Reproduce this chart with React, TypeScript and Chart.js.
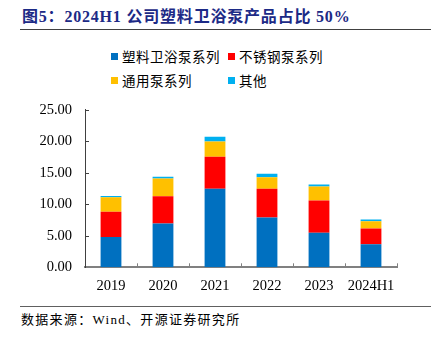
import React, { useEffect, useRef } from "react";
import { Chart, registerables } from "chart.js";

Chart.register(...registerables);

const categories = ["2019", "2020", "2021", "2022", "2023", "2024H1"];
const plasticBath = [4.82, 6.93, 12.45, 7.89, 5.5, 3.66];
const stainless = [3.98, 4.35, 5.09, 4.56, 5.09, 2.48];
const general = [2.33, 2.81, 2.43, 1.85, 2.22, 1.17];
const others = [0.2, 0.27, 0.73, 0.53, 0.32, 0.26];
const yTicks = [0, 5, 10, 15, 20, 25];

const seriesNames = ["塑料卫浴泵系列", "不锈钢泵系列", "通用泵系列", "其他"];
const seriesColors = ["#0070C0", "#FF0000", "#FFC000", "#00B0F0"];

const FONT = '"Liberation Serif", "Noto Sans CJK SC", serif';

const inwardTicks = {
  id: "inwardTicks",
  afterDatasetsDraw(chart: any) {
    const ctx = chart.ctx;
    const y = chart.scales.y;
    const area = chart.chartArea;
    ctx.save();
    ctx.strokeStyle = "#404040";
    ctx.lineWidth = 1;
    for (const v of yTicks) {
      if (v === 0) continue;
      const py = Math.round(y.getPixelForValue(v)) + 0.5;
      ctx.beginPath();
      ctx.moveTo(area.left, py);
      ctx.lineTo(area.left + 4, py);
      ctx.stroke();
    }
    ctx.strokeStyle = "#808080";
    const n = categories.length;
    for (let i = 1; i <= n; i++) {
      const px = Math.round(area.left + ((area.right - area.left) * i) / n) + 0.5;
      ctx.beginPath();
      ctx.moveTo(px, area.bottom);
      ctx.lineTo(px, area.bottom - 4);
      ctx.stroke();
    }
    ctx.restore();
  },
};

export default function App() {
  const ref = useRef<HTMLCanvasElement>(null);
  useEffect(() => {
    if (!ref.current) return;
    const data = [plasticBath, stainless, general, others];
    const chart = new Chart(ref.current, {
      type: "bar",
      data: {
        labels: categories,
        datasets: data.map((d, i) => ({
          label: seriesNames[i],
          data: d,
          backgroundColor: seriesColors[i],
          borderWidth: 0,
          barPercentage: 0.8,
          categoryPercentage: 0.5,
        })),
      },
      options: {
        animation: false,
        responsive: false,
        maintainAspectRatio: false,
        layout: { padding: { top: 15, right: 34, left: 0, bottom: 0 } },
        plugins: { legend: { display: false }, tooltip: { enabled: false } },
        scales: {
          x: {
            stacked: true,
            grid: { display: false, drawTicks: false },
            border: { display: true, color: "#808080", width: 2 },
            ticks: { color: "#000", font: { family: FONT, size: 14.5 }, padding: 10, maxRotation: 0 },
            afterFit: (s: any) => { s.height = 37.7; },
          },
          y: {
            stacked: true,
            min: 0,
            max: 25,
            grid: { display: false, drawTicks: false },
            border: { display: true, color: "#404040", width: 1 },
            ticks: {
              stepSize: 5,
              color: "#000",
              font: { family: FONT, size: 14.5 },
              padding: 13,
              callback: (v: any) => Number(v).toFixed(2),
            },
            afterFit: (s: any) => { s.width = 85; },
          },
        },
      },
      plugins: [inwardTicks],
    });
    return () => chart.destroy();
  }, []);

  const legendItems = [
    { name: seriesNames[0], color: seriesColors[0], x: 111, y: 56 },
    { name: seriesNames[1], color: seriesColors[1], x: 228, y: 56 },
    { name: seriesNames[2], color: seriesColors[2], x: 111, y: 80 },
    { name: seriesNames[3], color: seriesColors[3], x: 228, y: 80 },
  ];

  return (
    <div style={{ position: "absolute", left: 0, top: 0, width: 431, height: 343, background: "#fff", overflow: "hidden", fontFamily: FONT }}>
      <div style={{ position: "absolute", left: 22, top: 6, fontSize: 16, letterSpacing: 0.8, fontWeight: "bold", color: "#1c2a86", whiteSpace: "nowrap", lineHeight: "22px" }}>
        图5：2024H1 公司塑料卫浴泵产品占比 50%
      </div>
      <div style={{ position: "absolute", left: 20, top: 29, width: 411, height: 1, background: "#404040" }} />
      {legendItems.map((it, i) => (
        <div key={i} style={{ position: "absolute", left: it.x, top: it.y - 10, height: 20, display: "flex", alignItems: "center", whiteSpace: "nowrap" }}>
          <span style={{ display: "inline-block", width: 7, height: 7, background: it.color, marginRight: 4 }} />
          <span style={{ fontSize: 13.5, letterSpacing: 0.5, color: "#000" }}>{it.name}</span>
        </div>
      ))}
      <canvas ref={ref} width={431} height={217} style={{ position: "absolute", left: 0, top: 88, width: 431, height: 217 }} />
      <div style={{ position: "absolute", left: 20, top: 306, width: 411, height: 1, background: "#606060" }} />
      <div style={{ position: "absolute", left: 21, top: 311, fontSize: 13, letterSpacing: 1.3, color: "#000", whiteSpace: "nowrap", lineHeight: "18px" }}>
        数据来源：Wind、开源证券研究所
      </div>
    </div>
  );
}
